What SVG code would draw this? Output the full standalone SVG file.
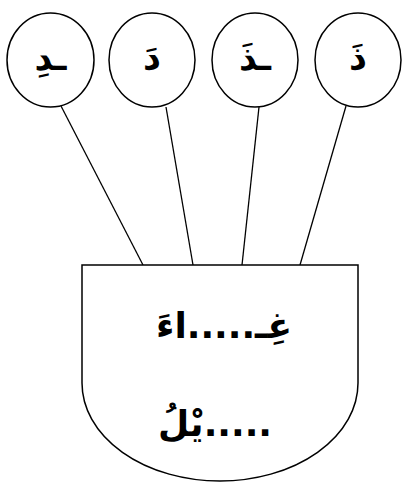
<svg xmlns="http://www.w3.org/2000/svg" width="403" height="485" viewBox="0 0 403 485">
<style>
.sh{fill:#fff;stroke:#000;stroke-width:1.5}
.ln{stroke:#000;stroke-width:1.3;fill:none}
.t{font-family:"DejaVu Sans",sans-serif;font-weight:bold;text-anchor:middle;fill:#000}
</style>
<rect width="403" height="485" fill="#fff"/>
<g id="connectors">
<line class="ln" x1="61" y1="106" x2="143" y2="265"/>
<line class="ln" x1="166" y1="107" x2="193" y2="265"/>
<line class="ln" x1="259" y1="107" x2="242" y2="265"/>
<line class="ln" x1="346" y1="106" x2="300" y2="265"/>
</g>
<g id="n1"><ellipse class="sh" cx="50.5" cy="60" rx="43.5" ry="47"/><text class="t" x="50.5" y="70" font-size="35">ـدِ</text></g>
<g id="n2"><ellipse class="sh" cx="152" cy="60" rx="43" ry="47"/><text class="t" x="152" y="70" font-size="35">دَ</text></g>
<g id="n3"><ellipse class="sh" cx="255" cy="60" rx="43" ry="47"/><text class="t" x="255" y="70" font-size="35">ـذَ</text></g>
<g id="n4"><ellipse class="sh" cx="358" cy="60" rx="43" ry="47"/><text class="t" x="358" y="70" font-size="35">ذَ</text></g>
<g id="container">
<path class="sh" d="M82,265 H358 V383 A138,98 0 0 1 82,383 Z"/>
<text class="t" x="224" y="338" font-size="36">غِـ.....اءَ</text>
<text class="t" x="215" y="436" font-size="36">يْلُ.....</text>
</g>
</svg>
